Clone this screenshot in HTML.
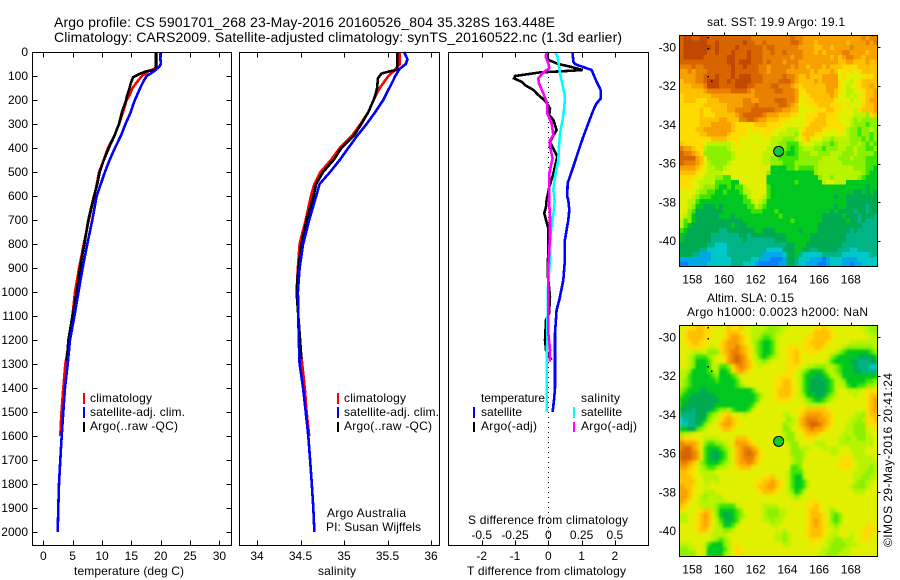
<!DOCTYPE html>
<html lang="en">
<head>
<meta charset="utf-8">
<title>Argo profile</title>
<style>
html,body{margin:0;padding:0;background:#fff;width:900px;height:580px;overflow:hidden}
svg{display:block}
text{font-family:"Liberation Sans",sans-serif;font-size:12px;fill:#000}
.t{font-size:14px}
</style>
</head>
<body>
<svg id="chart" xmlns="http://www.w3.org/2000/svg" width="900" height="580" viewBox="0 0 900 580">
<defs>
<filter id="slaBlur" x="-5%" y="-5%" width="110%" height="110%" color-interpolation-filters="sRGB"><feGaussianBlur stdDeviation="1.2"/></filter>
<clipPath id="slaClip"><rect x="679.5" y="325.5" width="198" height="231"/></clipPath>
</defs>
<rect x="0" y="0" width="900" height="580" fill="#fff"/>
<g id="mapLayer" shape-rendering="crispEdges">
<g id="sstMap"></g>
<g clip-path="url(#slaClip)">
<rect x="679.5" y="325.5" width="198" height="231" fill="#d8f000"/>
<g id="slaMap" filter="url(#slaBlur)"></g>
</g>
</g>
<g id="lineLayer" fill="none" stroke-linejoin="miter" shape-rendering="crispEdges"></g>
<g id="axisLayer"></g>

<text class="t" x="54" y="27" textLength="501" lengthAdjust="spacing">Argo profile: CS 5901701_268 23-May-2016 20160526_804 35.328S 163.448E</text>
<text class="t" x="54" y="42" textLength="568" lengthAdjust="spacing">Climatology: CARS2009. Satellite-adjusted climatology: synTS_20160522.nc (1.3d earlier)</text>

<text x="74" y="575" textLength="110" lengthAdjust="spacing">temperature (deg C)</text>
<text x="318" y="575" textLength="38" lengthAdjust="spacing">salinity</text>
<text x="467" y="575" textLength="159" lengthAdjust="spacing">T difference from climatology</text>
<text x="468" y="524" textLength="160" lengthAdjust="spacing">S difference from climatology</text>

<g shape-rendering="crispEdges">
<rect x="83" y="393" width="2" height="11" fill="#f00"/>
<rect x="83" y="407" width="2" height="11" fill="#00f"/>
<rect x="83" y="422" width="2" height="10" fill="#000"/>
</g>
<text x="90" y="402" textLength="62" lengthAdjust="spacing">climatology</text>
<text x="90" y="416" textLength="95" lengthAdjust="spacing">satellite-adj. clim.</text>
<text x="90" y="430" textLength="88" lengthAdjust="spacing">Argo(..raw -QC)</text>

<g shape-rendering="crispEdges">
<rect x="337" y="393" width="2" height="11" fill="#f00"/>
<rect x="337" y="407" width="2" height="11" fill="#00f"/>
<rect x="337" y="422" width="2" height="10" fill="#000"/>
</g>
<text x="344" y="402" textLength="62" lengthAdjust="spacing">climatology</text>
<text x="344" y="416" textLength="95" lengthAdjust="spacing">satellite-adj. clim.</text>
<text x="344" y="430" textLength="88" lengthAdjust="spacing">Argo(..raw -QC)</text>

<text x="327" y="517" textLength="79" lengthAdjust="spacing">Argo Australia</text>
<text x="326" y="531" textLength="95" lengthAdjust="spacing">PI: Susan Wijffels</text>

<g shape-rendering="crispEdges">
<rect x="473" y="407" width="2" height="11" fill="#00f"/>
<rect x="473" y="422" width="2" height="10" fill="#000"/>
<rect x="573" y="407" width="2" height="11" fill="#0ff"/>
<rect x="573" y="422" width="2" height="10" fill="#f0f"/>
</g>
<text x="481" y="402" textLength="64" lengthAdjust="spacing">temperature</text>
<text x="481" y="416" textLength="41" lengthAdjust="spacing">satellite</text>
<text x="481" y="430" textLength="56" lengthAdjust="spacing">Argo(-adj)</text>
<text x="581" y="402" textLength="39" lengthAdjust="spacing">salinity</text>
<text x="581" y="416" textLength="41" lengthAdjust="spacing">satellite</text>
<text x="581" y="430" textLength="56" lengthAdjust="spacing">Argo(-adj)</text>

<text x="707" y="26" textLength="138" lengthAdjust="spacing">sat. SST: 19.9 Argo: 19.1</text>
<text x="707" y="302" textLength="87" lengthAdjust="spacing">Altim. SLA: 0.15</text>
<text x="687" y="316" textLength="181" lengthAdjust="spacing">Argo h1000: 0.0023 h2000: NaN</text>
<text transform="translate(892,547) rotate(-90)" textLength="174" lengthAdjust="spacing">©IMOS 29-May-2016 20:41:24</text>
</svg>

<script>
// ---- chart data ----
var depthTicks = [0,100,200,300,400,500,600,700,800,900,1000,1100,1200,1300,1400,1500,1600,1700,1800,1900,2000];
var tempTicks = [0,5,10,15,20,25,30];
var salTicks = [34,34.5,35,35.5,36];
var salTickLabels = ['34','34.5','35','35.5','36'];
var tDiffTicks = [-2,-1,0,1,2];
var sDiffTicks = [-0.5,-0.25,0,0.25,0.5];
var sDiffTickLabels = ['-0.5','-0.25','0','0.25','0.5'];
var lonTicks = [158,160,162,164,166,168];
var latTicks = [-30,-32,-34,-36,-38,-40];

var tempClimDepth = [0,60,70,80,100,130,150,180,200,250,300,350,400,450,500,600,700,800,900,1000,1100,1200,1300,1400,1500,1600];
var tempClim = [19.3,19.3,18.9,17.9,16.8,15.8,15.2,14.7,14.2,13.6,12.9,12.1,11,10.3,9.5,8.7,7.75,6.9,6.1,5.4,4.95,4.45,3.75,3.4,3.1,2.9];
var tempSatDepth = [0,50,60,80,100,130,150,200,220,250,300,350,400,450,500,550,600,700,800,900,1000,1100,1200,1300,1400,1500,1600,1700,1800,1900,2000];
var tempSat = [19.9,20,19.8,18.9,17.6,16.9,16.5,15.6,15.3,14.9,14,13.2,12.2,11.3,10.5,9.8,9.1,8.35,7.5,6.7,6,5.3,4.55,4.15,3.7,3.4,3.13,2.9,2.68,2.56,2.45];
var tempArgoDepth = [0,75,80,90,105,130,150,180,200,250,300,350,400,450,500,550,600,700,800,900,1000,1100,1200,1290];
var tempArgo = [19.15,19.15,17.6,16.5,15.3,14.9,14.7,14.3,14.1,13.4,12.9,12.1,11.15,10.3,9.6,9.2,8.64,7.67,7,6.25,5.7,4.95,4.27,4];

var salClimDepth = [0,50,80,100,130,150,200,250,300,350,400,450,500,550,600,700,800,900,1000,1100,1200,1300,1400,1500,1600];
var salClim = [35.64,35.64,35.57,35.51,35.45,35.41,35.34,35.28,35.19,35.09,34.95,34.85,34.73,34.66,34.62,34.56,34.49,34.47,34.455,34.475,34.49,34.52,34.55,34.57,34.6];
var salSatDepth = [0,30,50,70,100,130,200,250,300,350,400,450,500,550,600,700,800,900,1000,1100,1200,1300,1400,1500,1600,1700,1800,1900,2000];
var salSat = [35.69,35.73,35.71,35.64,35.59,35.55,35.45,35.36,35.26,35.15,35.05,34.95,34.84,34.72,34.68,34.6,34.53,34.49,34.47,34.475,34.48,34.49,34.53,34.56,34.59,34.61,34.63,34.647,34.66];
var salArgoDepth = [0,75,80,90,110,150,180,200,250,300,350,400,450,500,550,600,700,800,900,1000,1100,1200,1280];
var salArgo = [35.61,35.61,35.53,35.43,35.39,35.38,35.36,35.34,35.28,35.2,35.11,34.97,34.88,34.76,34.68,34.65,34.57,34.51,34.475,34.455,34.475,34.495,34.51];

var tSatDepth = [0,40,50,58,75,117,158,193,214,242,297,353,394,436,478,519,547,603,617,658,700,783,867,950,1033,1075,1172,1311,1400,1450,1500];
var tSatDiff = [0.73,0.75,0.8,0.95,1.3,1.43,1.57,1.58,1.45,1.35,1.2,1.05,0.95,0.85,0.75,0.65,0.58,0.57,0.6,0.63,0.6,0.5,0.5,0.45,0.33,0.25,0.2,0.2,0.2,0.17,0.13];
var tArgoDepth = [0,33,50,61,75,79,85,100,110,124,138,158,179,207,235,263,283,325,353,375,403,436,507,563,617,645,672,700,735,825,922,1020,1089,1117,1200,1242,1263,1283];
var tArgoDiff = [-0.07,0,0.3,0.65,1.03,0.55,-0.25,-1,-1.03,-0.8,-0.7,-0.45,-0.3,-0.07,0.05,0.03,0.15,0.25,0.13,0.05,0.15,0.27,0.15,0.03,-0.05,-0.07,-0.12,-0.07,0,0,-0.02,0.05,0.02,-0.07,-0.1,-0.07,0,0.1];
var sSatDepth = [0,19,61,89,131,186,228,283,339,394,450,506,575,617,658,756,867,978,1172,1311,1436,1500];
var sSatDiff = [0.05,0.07,0.08,0.0875,0.105,0.125,0.12,0.1075,0.0875,0.08,0.075,0.055,0.0375,0.0475,0.0425,0.0175,0.0125,-0.0025,-0.0075,-0.0125,-0.0125,-0.0125];
var sArgoDepth = [0,19,47,68,85,110,131,172,214,256,297,346,367,394,443,506,575,617,686,756,825,894,1172,1240,1290];
var sArgoDiff = [-0.0125,-0.02,0,0.0075,-0.0375,-0.075,-0.07,-0.0375,-0.0075,-0.0075,0.025,0.0375,0.0125,0.0125,0.0325,0.0075,0.0075,0.005,0.0125,0.0125,0.0075,0,0,0.0125,0.01];

var profileLon = [163.448];
var profileLat = [-35.37];
var coastLon = [159,159,159,159.2];
var coastLat = [-29.5,-30.05,-31.5,-31.75];

// colour levels 0-f for both maps
var mapPalette = {'0':'#0a80ff','1':'#00a8e8','2':'#00c8c8','3':'#00b488','4':'#00aa50','5':'#00c820','6':'#40e400','7':'#8cf000','8':'#b8f400','9':'#e0f000','a':'#ffdc00','b':'#ffc000','c':'#f8a000','d':'#e88000','e':'#d86400','f':'#c04800'};

var sstRows = [
"effeeffeee eeeeeeeedd dddddddded dccccccccc ccccccdcdd",
"effffffeef eeeeeefeed deddddddee dcccbccccc ccbccccdcd",
"efffffffef eeeefeeeee edeedddddd ccccbbccbc cccdcccccc",
"effffffeef eeefeeefee eddeddeddd dcccbcbccc cddccccbcc",
"efffffeeee eeffeeefee edddddddcd dcccccccbc bcddccbccc",
"eeeeeeeeee eeffefffee ededddcddd cccccccccc bbccbbbcbb",
"dddeddeeee eeefeefeee ddcdddddcd ccbcccbcbb baaaabbbbb",
"ccdcdddeee eeefeeeeee ddcddddccc cccbcbbbcb 9aaa9abbbb",
"ccccddeeef eeefefffee edddddeddc bbcbbbcccc 9a9999aaab",
"bcccddefff eefeffffee eddddeeedc bbbbcbcccc a9989abbbb",
"bbbcccdfff eeeefffeed dddeedddcb abbbbbbccc a9899abbcb",
"bbbbbbcddd dddeeeedcd ddddeedddc aabbbbbccb a98899abbc",
"abbbbbbbcc cccccccccd dddddddddc a9abbbbbcb 998989abbc",
"abbbaaabbb ccccccddcc ddddeeeddc 9aaabbbbba 999899abcc",
"aaaaaabbbb bbccccddde dddddeedcb 99aaabbbaa a9a999abbc",
"aaaaabaabb bbccddddee eeeeddccbb 9999aaabba a9998abbbc",
"aaaaabaaab bbbbcdeeee edcccbbbaa 99aaabbaaa 99998887ab",
"aaaaabbbbb ccbbbddeed ccbbbaaa99 99aabbbaaa 9998787777",
"aaaaabbbcc cccbaaaaab bbaaaa9999 99abbbbaaa a998777677",
"aaaabbcccc cccbaaa9aa aaaa999888 9abbbbaa99 aa87767787",
"aaaaabbccc ccbaaaa999 9aa9988887 9bbbaa9999 9987767767",
"aaaaaaaabb bbaaa99999 9998887778 9ab9998878 8887776767",
"baaaaa9888 8889a99999 9998877666 8999887767 8887787676",
"dccbaa8777 7789999999 9988777656 7888776777 8877877667",
"eddcba7777 7778999999 9888776556 7778877788 8777877776",
"eeeecb9777 7778999999 9887766666 7777778888 7778777666",
"edddcb9877 7789999999 9887776667 7777788888 8777777666",
"ccccba9887 7899999999 9995555667 6666788888 8888777665",
"bbbba99888 8999999999 9975555555 5555788888 8888887655",
"aaaa998887 7669999999 9955555555 5555578878 8888876555",
"aaa9988886 6665599999 9955555556 5555558998 8855555555",
"aaa9987776 5565668999 9965555555 5555555555 5555555455",
"9999877665 5655568899 9965555555 5555555555 5555445454",
"9998766655 5555556899 9865555555 5555555554 5544444444",
"9988655555 5555556689 8755555555 5555555555 5544444444",
"9987554445 4555555668 7655555555 5555555554 5544444344",
"9976444444 4555555566 6555655555 5555555545 4444344344",
"9875444444 5554555555 5555565555 5555554444 4544434443",
"8675444444 4444445555 5555555565 5555554444 4454434333",
"8654444444 4445444555 5555555555 5555544444 4444443333",
"6544444444 3344444445 5444555555 4555544444 4443433333",
"5444444433 3333344344 4444444555 5554444444 4433333333",
"5444444433 3333334333 3333444555 5554444444 4433333333",
"4444444332 2233333333 3333333445 5544444444 4333333333",
"4444433222 2233333333 3322224445 5443344444 3332233333",
"4443311122 2233333333 3111112445 3222223333 3222222233",
"1111111122 2223333322 1110001443 2221110122 2111122222",
"0011111222 2223332221 0000011443 2211100122 2110112222"
];

var slaRows = [
"99aabbaaa9 99baab9988 8877788999 9999aaba99 9999998877",
"9abbbbaa99 9abbba9988 8777889999 999abbbba9 9999999887",
"9abbbbaa99 9abccba988 7667899999 99aabbbba9 9999999988",
"9aabbaa999 abcccba987 6556899999 9aabbbba99 9998888888",
"99aaaa9989 abccdcba97 6556899aaa 9aaabba999 9877777778",
"9998889777 abcddcba97 6556899aab a9aaa99998 7655555567",
"9987666789 9acdedca98 6567899aab a999999976 5555544445",
"9987555689 9acdedcb98 8789999aab a999999865 5554433344",
"9987555688 667acdcba9 8999999aaa 9988777887 6555433322",
"8875555678 556abcba99 9999999aa9 8765556887 6555443333",
"8865555567 5556799999 99999aaa99 8655445688 7555555555",
"8765555556 5555689999 9999aabba9 8654444568 8755555667",
"8765555555 5555678999 9999aabba9 8654444568 8865566778",
"7655544555 5555555568 9999abbba9 8654444568 9988889aaa",
"6554444445 5555555556 7999abbba9 8755444678 9999899abb",
"5544444444 5555555556 8999aaaa99 9876556789 9999999abc",
"5444444445 5555555568 9999999999 9988888999 9999999abc",
"4443444456 7786555689 9999999999 aabbbbba99 9999999abc",
"3333444678 9ab9998999 9999998899 abccccbba9 9999887abb",
"2333445789 abcba99999 9999999789 bcdddccba9 9998878aab",
"2233457899 bccba99999 9999997889 bcdeedcba9 9988777aaa",
"5544678999 abba999999 9999997799 abcdccba99 9988777999",
"7889999999 9999999999 9999998779 9abbba9999 9888777899",
"baaa998888 9999bbba99 9999998779 99aa999999 8878877889",
"dcccb97667 789acccba9 9999999877 9999888999 8888888889",
"deecb96555 6789bcddcb 9999999977 8889998888 9998888999",
"eeedc96544 5689bcdedc a999999977 7899999988 9999888999",
"eeedc96544 5689bcdddb a999999987 7899999999 9aa9888889",
"ddcb976555 6789bccdcb 9999999987 7999999999 aaaa988888",
"ccba987667 8899abbba9 9999999966 7999999999 aaa9988878",
"bbaa988889 9999999999 9999999866 6899999999 9999888778",
"bbba998888 9999999999 9aab999865 5899999999 9999887788",
"bbbb998898 999999999a abbcba9865 5689999999 9999877889",
"cbba999999 999999999a bbccba9865 5689999999 9998777899",
"ccba998889 9999999999 abbba99875 6899999999 9999888999",
"ccb9987888 8999999999 9999999987 8999999999 9999999999",
"cba9988888 8899999999 9999999999 999aa99999 9999999999",
"ba99988887 6666899999 9888899999 99aaba9999 9999999999",
"a9999abb87 5555679999 9877788999 99abba9978 9999999999",
"8899abcb97 5445678999 9877788999 99abbba976 7999999999",
"8899abcb98 6545689999 9887889999 99abcba976 7999999999",
"9999abcb98 7556899999 9998899999 99abcba987 8999999aa9",
"9999abba98 8778999999 9999998999 99abbba998 999999aaaa",
"9999999988 8899999999 9999887899 99abbba988 999899aaa9",
"9999999987 6789999999 9999887899 999aaa9887 788899aa99",
"8889998655 5789a99999 9999998899 999a999877 7788899999",
"7788998555 5689aa9999 9999999999 9999998877 7889999999",
"7777998555 5789aa9999 9999999999 9999988777 8889999999"
];

// ---- axis functions ----
var NS = 'http://www.w3.org/2000/svg';
function depthY(d){ return 52 + d * 0.24; }
function tempX(t){ return 43.3 + t * 5.87; }
function salX(s){ return 257 + (s - 34) * 87; }
function tDiffX(t){ return 548.3 + t * 33.3; }
function sDiffX(s){ return tDiffX(s * 4); }
function lonX(lon){ return 692.3 + (lon - 158) * 15.85; }
function latOffset(lat){ return (-30 - lat) * 19.37; }

function mk(tag, attrs, parent){
  var el = document.createElementNS(NS, tag);
  for (var k in attrs) el.setAttribute(k, attrs[k]);
  parent.appendChild(el);
  return el;
}
var lineLayer = document.getElementById('lineLayer');
var axisLayer = document.getElementById('axisLayer');

function drawLine(depths, vals, xf, color, name){
  var pts = [];
  for (var i = 0; i < depths.length && i < vals.length; i++){
    pts.push(xf(vals[i]).toFixed(1) + ',' + depthY(depths[i]).toFixed(1));
  }
  var el = mk('polyline', {points: pts.join(' '), stroke: color, 'stroke-width': 2.6}, lineLayer);
  
  
}

drawLine(tempClimDepth, tempClim, tempX, '#f00', 'temperature-climatology-line');
drawLine(tempArgoDepth, tempArgo, tempX, '#000', 'temperature-argo-line');
drawLine(tempSatDepth, tempSat, tempX, '#00f', 'temperature-satellite-line');
drawLine(salClimDepth, salClim, salX, '#f00', 'salinity-climatology-line');
drawLine(salArgoDepth, salArgo, salX, '#000', 'salinity-argo-line');
drawLine(salSatDepth, salSat, salX, '#00f', 'salinity-satellite-line');

var zero = mk('line', {x1: tDiffX(0), x2: tDiffX(0), y1: 52, y2: 545, stroke: '#000', 'stroke-width': 1, 'stroke-dasharray': '1 4'}, lineLayer);



drawLine(tArgoDepth, tArgoDiff, tDiffX, '#000', 't-difference-argo-line');
drawLine(tSatDepth, tSatDiff, tDiffX, '#00f', 't-difference-satellite-line');
drawLine(sSatDepth, sSatDiff, sDiffX, '#0ff', 's-difference-satellite-line');
drawLine(sArgoDepth, sArgoDiff, sDiffX, '#f0f', 's-difference-argo-line');

// ---- frames and ticks ----
function tick(x1, y1, x2, y2){
  var el = mk('line', {x1: x1, y1: y1, x2: x2, y2: y2, stroke: '#000', 'stroke-width': 1, 'shape-rendering': 'crispEdges'}, axisLayer);
  
  
}
function label(x, y, str, anchor){
  var el = mk('text', {x: x, y: y, 'text-anchor': anchor}, axisLayer);
  el.textContent = str;
  
  
}
function frame(x, y, w, h, name){
  var el = mk('rect', {x: x, y: y, width: w, height: h, fill: 'none', stroke: '#000', 'stroke-width': 1, 'shape-rendering': 'crispEdges'}, axisLayer);
  
  
}

frame(32.5, 52.5, 199, 493, 'temperature-panel-frame');
frame(239.5, 52.5, 200, 493, 'salinity-panel-frame');
frame(448.5, 52.5, 200, 493, 'difference-panel-frame');

depthTicks.forEach(function(d){
  var y = Math.round(depthY(d)) + 0.5;
  if (d > 0){ tick(32.5, y, 37.5, y); tick(226.5, y, 231.5, y); }
  label(28, depthY(d) + 4, String(d), 'end');
});
function xTicks(vals, xf, labels, baseline){
  vals.forEach(function(v, i){
    var x = Math.round(xf(v)) + 0.5;
    tick(x, 52.5, x, 57.5);
    tick(x, 540.5, x, 545.5);
    if (labels) label(xf(v), baseline, labels[i], 'middle');
  });
}
xTicks(tempTicks, tempX, tempTicks.map(String), 560);
xTicks(salTicks, salX, salTickLabels, 560);
xTicks(tDiffTicks, tDiffX, tDiffTicks.map(String), 560);
sDiffTicks.forEach(function(v, i){ label(sDiffX(v), 539, sDiffTickLabels[i], 'middle'); });

// ---- maps ----
function drawMap(rows, top, name, layer){
  var left = 679.5, w = 198, h = 231, nc = 50, nr = rows.length;
  rows.forEach(function(raw, r){
    var row = raw.replace(/ /g, '');
    for (var c = 0; c < row.length && c < nc; c++){
      var x0 = left + c * w / nc, y0 = top + r * h / nr;
      var cell = mk('rect', {x: x0.toFixed(2), y: y0.toFixed(2), width: (w / nc + 0.4).toFixed(2), height: (h / nr + 0.4).toFixed(2), fill: mapPalette[row[c]]}, layer);
      
      
    }
  });
}
function drawMapAxes(top, zeroY, name, dotColor){
  frame(679.5, top, 198, 231, name + '-frame');
  lonTicks.forEach(function(lon){
    var x = Math.round(lonX(lon)) + 0.5;
    tick(x, top - 3, x, top);
    label(lonX(lon), top + 248, String(lon), 'middle');
  });
  latTicks.forEach(function(lat){
    var y = Math.round(zeroY + latOffset(lat)) + 0.5;
    tick(877.5, y, 880.5, y);
    label(676, zeroY + latOffset(lat) + 4, String(lat), 'end');
  });
  coastLon.forEach(function(lon, i){
    var dot = mk('rect', {x: lonX(lon) - 0.5, y: zeroY + latOffset(coastLat[i]) - 0.5, width: 1.5, height: 1.5, fill: '#000', 'shape-rendering': 'crispEdges'}, axisLayer);
    
    
  });
  profileLon.forEach(function(lon, i){
    var mark = mk('circle', {cx: lonX(lon), cy: zeroY + latOffset(profileLat[i]), r: 5, fill: dotColor, stroke: '#000', 'stroke-width': 1}, axisLayer);
    
    
  });
}
drawMap(sstRows, 35.5, 'sst-map', document.getElementById('sstMap'));
drawMap(slaRows, 325.5, 'sla-map', document.getElementById('slaMap'));
drawMapAxes(35.5, 47.3, 'sst-map', '#10c840');
drawMapAxes(325.5, 337.3, 'sla-map', '#10d020');
</script>
</body>
</html>
